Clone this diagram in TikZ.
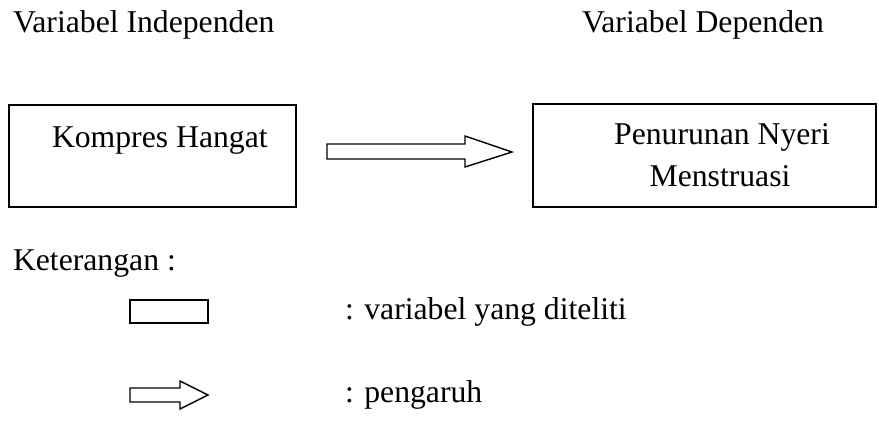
\documentclass[tikz,border=0pt]{standalone}
\usepackage{fontspec}
\setmainfont{Liberation Serif}
\usetikzlibrary{calc}
\begin{document}
\begin{tikzpicture}[x=1pt,y=-1pt,
  every node/.style={font=\fontsize{31.7}{38}\selectfont, inner sep=0pt, outer sep=0pt},
  frame/.style={draw, line width=1.6pt, anchor=north west},
  blockarrow/.style={draw, line width=1.4pt, line join=miter}]
\useasboundingbox (0,0) rectangle (879,443);
% headers
\node[anchor=base west] (vi) at (13,33) {Variabel Independen};
\node[anchor=base west] (vd) at (582,33) {Variabel Dependen};
% main boxes
\node[frame, minimum width=287pt, minimum height=102pt] (kh) at (9,105) {};
\node[anchor=base west] (khtext) at (52,148) {Kompres Hangat};
\node[frame, minimum width=343pt, minimum height=103pt] (pn) at (533,104) {};
\node[anchor=base] (pn1) at (722,145) {Penurunan Nyeri};
\node[anchor=base] (pn2) at (720,187) {Menstruasi};
% main block arrow
\draw[blockarrow] (327,144) -- (465,144) -- (465,136) -- (512,152) -- (465,167) -- (465,159) -- (327,159) -- cycle;
% legend
\node[anchor=base west] (ket) at (13,271) {Keterangan :};
\node[frame, minimum width=78pt, minimum height=23pt] (lbox) at (130,300) {};
\node[anchor=base west] (lt1) at (345,320) {: variabel yang diteliti};
\draw[blockarrow] (130,388) -- (180,388) -- (180,381) -- (208,395) -- (180,409) -- (180,402) -- (130,402) -- cycle;
\node[anchor=base west] (lt2) at (345,403) {: pengaruh};
\end{tikzpicture}
\end{document}
